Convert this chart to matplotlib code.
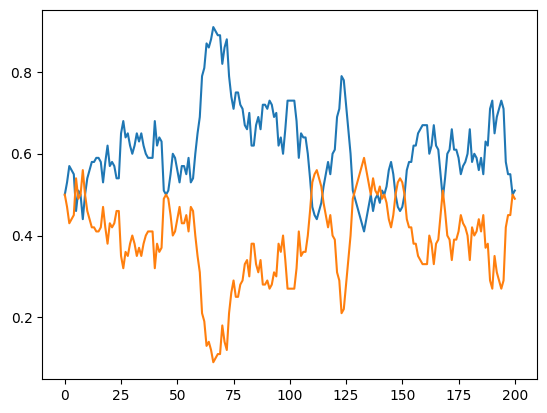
import matplotlib
matplotlib.use("Agg")
import matplotlib.pyplot as plt

# step index 0..200
steps = list(range(201))

# blue series
share_a = [
    0.50, 0.53, 0.57, 0.56, 0.55, 0.46, 0.51, 0.50, 0.44, 0.50,
    0.54, 0.56, 0.58, 0.58, 0.59, 0.59, 0.58, 0.53, 0.58, 0.62,
    0.57, 0.58, 0.57, 0.54, 0.54, 0.65, 0.68, 0.64, 0.65, 0.62,
    0.60, 0.62, 0.65, 0.63, 0.65, 0.62, 0.60, 0.59, 0.59, 0.59,
    0.68, 0.62, 0.64, 0.63, 0.51, 0.50, 0.51, 0.55, 0.60, 0.59,
    0.56, 0.53, 0.57, 0.57, 0.55, 0.59, 0.53, 0.54, 0.60, 0.65,
    0.69, 0.79, 0.81, 0.87, 0.86, 0.88, 0.91, 0.90, 0.89, 0.89,
    0.82, 0.86, 0.88, 0.79, 0.74, 0.71, 0.75, 0.75, 0.72, 0.71,
    0.67, 0.66, 0.70, 0.62, 0.62, 0.67, 0.69, 0.66, 0.72, 0.72,
    0.71, 0.73, 0.72, 0.69, 0.70, 0.62, 0.64, 0.60, 0.66, 0.73,
    0.73, 0.73, 0.73, 0.68, 0.59, 0.65, 0.64, 0.64, 0.60, 0.54,
    0.47, 0.45, 0.44, 0.46, 0.48, 0.52, 0.55, 0.58, 0.55, 0.60,
    0.61, 0.69, 0.71, 0.79, 0.78, 0.72, 0.66, 0.60, 0.51, 0.49,
    0.47, 0.45, 0.43, 0.41, 0.44, 0.47, 0.50, 0.46, 0.49, 0.50,
    0.48, 0.51, 0.50, 0.52, 0.56, 0.58, 0.55, 0.50, 0.47, 0.46,
    0.47, 0.50, 0.56, 0.58, 0.58, 0.62, 0.62, 0.65, 0.66, 0.67,
    0.67, 0.67, 0.60, 0.62, 0.67, 0.62, 0.61, 0.55, 0.49, 0.54,
    0.60, 0.61, 0.66, 0.61, 0.61, 0.59, 0.55, 0.57, 0.58, 0.60,
    0.66, 0.58, 0.60, 0.59, 0.56, 0.59, 0.55, 0.63, 0.62, 0.71,
    0.73, 0.65, 0.69, 0.71, 0.73, 0.71, 0.58, 0.55, 0.55, 0.50,
    0.51,
]

# orange series (mirror image of the blue one)
share_b = [
    0.50, 0.47, 0.43, 0.44, 0.45, 0.54, 0.49, 0.50, 0.56, 0.50,
    0.46, 0.44, 0.42, 0.42, 0.41, 0.41, 0.42, 0.47, 0.42, 0.38,
    0.43, 0.42, 0.43, 0.46, 0.46, 0.35, 0.32, 0.36, 0.35, 0.38,
    0.40, 0.38, 0.35, 0.37, 0.35, 0.38, 0.40, 0.41, 0.41, 0.41,
    0.32, 0.38, 0.36, 0.37, 0.49, 0.50, 0.49, 0.45, 0.40, 0.41,
    0.44, 0.47, 0.43, 0.43, 0.45, 0.41, 0.47, 0.46, 0.40, 0.35,
    0.31, 0.21, 0.19, 0.13, 0.14, 0.12, 0.09, 0.10, 0.11, 0.11,
    0.18, 0.14, 0.12, 0.21, 0.26, 0.29, 0.25, 0.25, 0.28, 0.29,
    0.33, 0.34, 0.30, 0.38, 0.38, 0.33, 0.31, 0.34, 0.28, 0.28,
    0.29, 0.27, 0.28, 0.31, 0.30, 0.38, 0.36, 0.40, 0.34, 0.27,
    0.27, 0.27, 0.27, 0.32, 0.41, 0.35, 0.36, 0.36, 0.40, 0.46,
    0.53, 0.55, 0.56, 0.54, 0.52, 0.48, 0.45, 0.42, 0.45, 0.40,
    0.39, 0.31, 0.29, 0.21, 0.22, 0.28, 0.34, 0.40, 0.49, 0.51,
    0.53, 0.55, 0.57, 0.59, 0.56, 0.53, 0.50, 0.54, 0.51, 0.50,
    0.52, 0.49, 0.50, 0.48, 0.44, 0.42, 0.45, 0.50, 0.53, 0.54,
    0.53, 0.50, 0.44, 0.42, 0.42, 0.38, 0.38, 0.35, 0.34, 0.33,
    0.33, 0.33, 0.40, 0.38, 0.33, 0.38, 0.39, 0.45, 0.51, 0.46,
    0.40, 0.39, 0.34, 0.39, 0.39, 0.41, 0.45, 0.43, 0.42, 0.40,
    0.34, 0.42, 0.40, 0.41, 0.44, 0.41, 0.45, 0.37, 0.38, 0.29,
    0.27, 0.35, 0.31, 0.29, 0.27, 0.29, 0.42, 0.45, 0.45, 0.50,
    0.49,
]

fig = plt.figure(figsize=(5.47, 4.13), dpi=100)
ax = fig.add_axes([42.3 / 547, 1 - 379 / 413, 495 / 547, 368.7 / 413])

ax.plot(steps, share_a, color='#1f77b4', lw=1.5)
ax.plot(steps, share_b, color='#ff7f0e', lw=1.5)

ax.set_xticks([0, 25, 50, 75, 100, 125, 150, 175, 200])
ax.set_yticks([0.2, 0.4, 0.6, 0.8])

fig.savefig("out.png", dpi=100)
